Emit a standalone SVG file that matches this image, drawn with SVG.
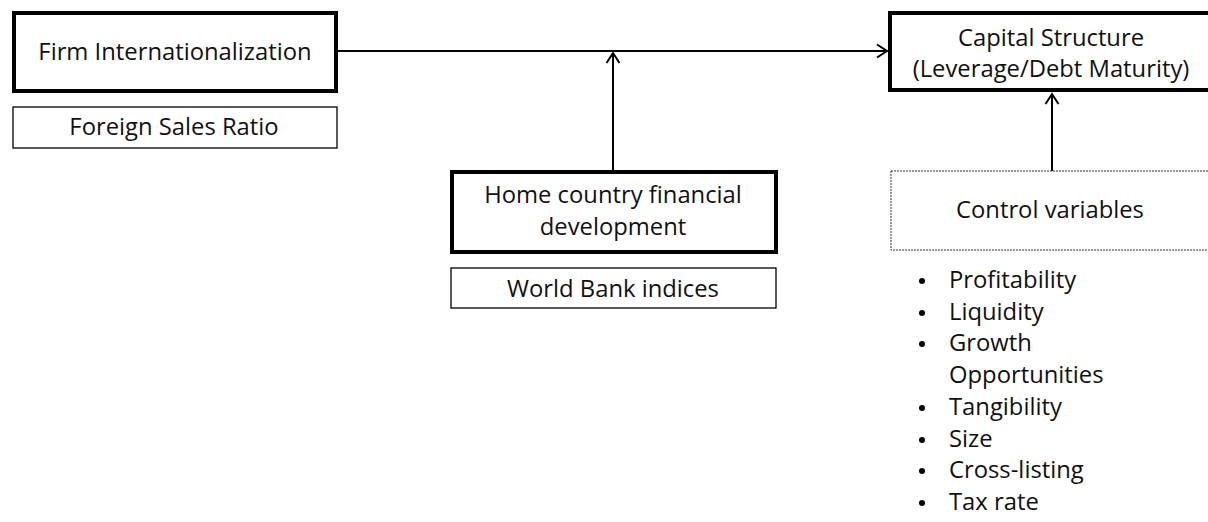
<svg xmlns="http://www.w3.org/2000/svg" width="1208" height="522" viewBox="0 0 1208 522">
<defs>
<style>
.thick{fill:#fff;stroke:#000;stroke-width:4}
.thin{fill:#fff;stroke:#000;stroke-width:1.3}
.dash{fill:#fff;stroke:#333;stroke-width:1;stroke-dasharray:2 1}
text{font-family:"Open Sans","Noto Sans","Liberation Sans",sans-serif;font-size:23.8px;fill:#111}
.c{text-anchor:middle}
.conn{stroke:#000;stroke-width:2;fill:none}
</style>
<marker id="arr" markerWidth="14" markerHeight="16" refX="12" refY="8" orient="auto" markerUnits="userSpaceOnUse">
<path d="M2,1.5 L12,8 L2,14.5" fill="none" stroke="#000" stroke-width="2"/>
</marker>
</defs>
<rect width="1208" height="522" fill="#fff"/>
<g id="connectors">
<line class="conn" x1="338" y1="51" x2="887" y2="51" marker-end="url(#arr)"/>
<line class="conn" x1="613" y1="171" x2="613" y2="53" marker-end="url(#arr)"/>
<line class="conn" x1="1052" y1="171" x2="1052" y2="94" marker-end="url(#arr)"/>
</g>
<g id="firm">
<rect class="thick" x="14" y="13" width="322" height="78"/>
<text class="c" x="175" y="60">Firm Internationalization</text>
</g>
<g id="foreign-sales">
<rect class="thin" x="13" y="107" width="324" height="41"/>
<text class="c" x="174" y="135">Foreign Sales Ratio</text>
</g>
<g id="capital">
<rect class="thick" x="890" y="13" width="326" height="77"/>
<text class="c" x="1051" y="46">Capital Structure</text>
<text class="c" x="1051" y="77">(Leverage/Debt Maturity)</text>
</g>
<g id="home">
<rect class="thick" x="452" y="172" width="324" height="80"/>
<text class="c" x="613" y="203">Home country financial</text>
<text class="c" x="613" y="235">development</text>
</g>
<g id="worldbank">
<rect class="thin" x="451" y="268" width="325" height="40"/>
<text class="c" x="613" y="297">World Bank indices</text>
</g>
<g id="control">
<rect class="dash" x="891" y="171" width="330" height="79"/>
<text class="c" x="1050" y="218">Control variables</text>
</g>
<g id="control-list">
<circle cx="922" cy="281" r="3"/>
<text x="949" y="288">Profitability</text>
<circle cx="922" cy="313" r="3"/>
<text x="949" y="320">Liquidity</text>
<circle cx="922" cy="344" r="3"/>
<text x="949" y="351">Growth</text>
<text x="949" y="383">Opportunities</text>
<circle cx="922" cy="408" r="3"/>
<text x="949" y="415">Tangibility</text>
<circle cx="922" cy="440" r="3"/>
<text x="949" y="447">Size</text>
<circle cx="922" cy="471" r="3"/>
<text x="949" y="478">Cross-listing</text>
<circle cx="922" cy="503" r="3"/>
<text x="949" y="510">Tax rate</text>
</g>
</svg>
